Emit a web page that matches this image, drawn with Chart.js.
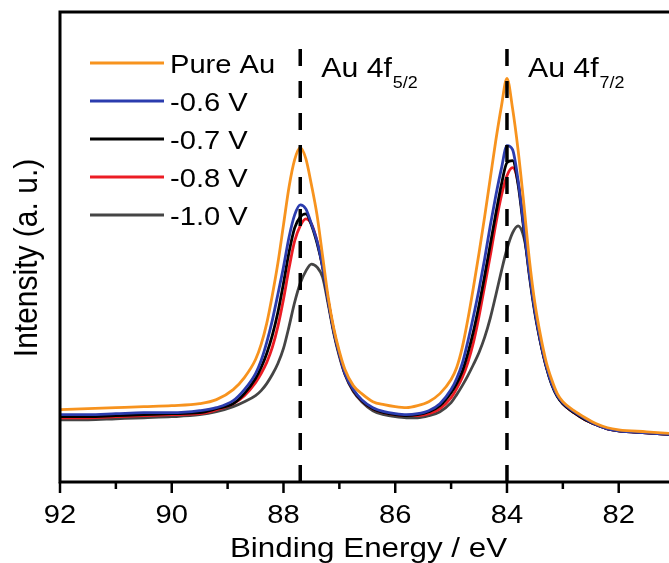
<!DOCTYPE html>
<html>
<head>
<meta charset="utf-8">
<script src="https://cdn.jsdelivr.net/npm/chart.js@4.4.1/dist/chart.umd.min.js"></script>
<style>
  html, body { margin: 0; padding: 0; background: #fff; }
  #wrap { width: 669px; height: 563px; position: relative; }
</style>
</head>
<body>
<div id="wrap"><canvas id="xps"></canvas></div>
<script>
// binding energy grid (eV)
const energy = [92.0, 91.5, 91.0, 90.5, 90.0, 89.5, 89.2, 88.9, 88.7, 88.5, 88.4, 88.3, 88.2, 88.1, 88.0,
  87.9, 87.8, 87.7, 87.6, 87.5, 87.4, 87.3, 87.2, 87.1, 87.0, 86.9, 86.75, 86.6, 86.4, 86.2, 86.0,
  85.8, 85.6, 85.4, 85.2, 85.0, 84.9, 84.8, 84.7, 84.6, 84.5, 84.4, 84.3, 84.2, 84.1, 84.0,
  83.9, 83.8, 83.7, 83.6, 83.5, 83.4, 83.3, 83.2, 83.1, 83.0, 82.8, 82.6, 82.4, 82.2, 82.0, 81.5, 81.0];

const pureAu = [72, 73, 74, 75, 76, 78, 82, 92, 104, 122, 137, 158, 186, 218, 256,
  294, 321, 333, 322, 296, 266, 225, 184, 153, 130, 112, 96, 88, 80, 77, 75,
  74, 76, 80, 88, 102, 114, 134, 162, 194, 228, 264, 302, 340, 374, 402,
  372, 330, 278, 222, 178, 146, 120, 102, 88, 80, 71, 64, 58, 54, 52, 50, 48];

const v06 = [67, 67, 68, 69, 69, 71, 74, 81, 92, 108, 121, 139, 161, 187, 214,
  244, 266, 276, 272, 257, 240, 214, 180, 150, 127, 108, 92, 82, 74, 70, 68,
  67, 68, 71, 78, 92, 103, 118, 140, 165, 192, 222, 255, 285, 312, 335,
  331, 300, 255, 208, 170, 140, 116, 98, 86, 79, 70, 63, 57, 53, 51, 49, 47];

const v07 = [65, 65, 66, 67, 68, 69, 73, 78, 88, 103, 114, 128, 146, 169, 198,
  229, 253, 264, 267, 256, 238, 214, 180, 150, 127, 108, 91, 81, 73, 69, 67,
  66, 67, 70, 76, 89, 98, 110, 128, 150, 176, 205, 236, 267, 296, 318,
  320, 296, 252, 206, 168, 139, 115, 97, 85, 78, 69, 62, 57, 53, 51, 49, 47];

const v08 = [64, 64, 65, 66, 67, 68, 72, 78, 86, 99, 108, 119, 134, 155, 182,
  213, 240, 255, 262, 257, 240, 215, 181, 151, 127, 108, 91, 81, 73, 69, 67,
  66, 66, 68, 73, 84, 93, 104, 119, 139, 165, 195, 225, 257, 285, 305,
  313, 298, 255, 208, 170, 140, 116, 98, 86, 78, 69, 62, 57, 53, 51, 49, 47];

const v10 = [62, 62, 63, 64, 65, 67, 70, 75, 80, 86, 91, 98, 107, 118, 133,
  155, 179, 198, 210, 217, 214, 204, 177, 148, 125, 107, 90, 80, 71, 67, 65,
  64, 64, 66, 70, 79, 87, 96, 106, 117, 129, 144, 163, 186, 210, 232,
  248, 255, 244, 213, 172, 140, 116, 98, 86, 78, 69, 62, 57, 53, 51, 49, 47];

const seriesNames = ["Pure Au", "-0.6 V", "-0.7 V", "-0.8 V", "-1.0 V"];
const seriesColors = ["#F7931E", "#2B3CAE", "#000000", "#EC1C24", "#454545"];
const seriesValues = [pureAu, v06, v07, v08, v10];

// peak positions marked with dashed lines, and their labels
const peakPos = [87.7, 84.0];
const peakMain = ["Au 4f", "Au 4f"];
const peakSub = ["5/2", "7/2"];

const xTickValues = [92, 91, 90, 89, 88, 87, 86, 85, 84, 83, 82];

const FONT = '"Liberation Sans", Arial, sans-serif';
const SX = 1.12; // the figure is a bit wider than tall

function wideText(ctx, str, x, y, size, align) {
  ctx.save();
  ctx.font = size + "px " + FONT;
  ctx.translate(x, y);
  ctx.scale(SX, 1);
  ctx.textAlign = align || "left";
  ctx.textBaseline = "alphabetic";
  ctx.fillText(str, 0, 0);
  ctx.restore();
}

const decor = {
  id: "decor",
  afterDatasetsDraw(chart) {
    const ctx = chart.ctx;
    const a = chart.chartArea;
    const xs = chart.scales.x;
    ctx.save();
    ctx.fillStyle = "#000";
    ctx.strokeStyle = "#000";

    // dashed peak markers
    ctx.lineWidth = 3.5;
    ctx.setLineDash([17, 15]);
    peakPos.forEach(p => {
      const px = xs.getPixelForValue(p);
      ctx.beginPath();
      ctx.moveTo(px, a.bottom);
      ctx.lineTo(px, 42);
      ctx.stroke();
    });
    ctx.setLineDash([]);

    // frame: top, left, bottom
    ctx.lineWidth = 3;
    ctx.beginPath();
    ctx.moveTo(a.right, a.top);
    ctx.lineTo(a.left, a.top);
    ctx.lineTo(a.left, a.bottom);
    ctx.lineTo(a.right, a.bottom);
    ctx.stroke();

    // x ticks and labels
    ctx.lineWidth = 2.5;
    xs.ticks.forEach(t => {
      const px = xs.getPixelForValue(t.value);
      const major = t.value % 2 === 0;
      ctx.beginPath();
      ctx.moveTo(px, a.bottom);
      ctx.lineTo(px, a.bottom + (major ? 11 : 7));
      ctx.stroke();
      if (major) wideText(ctx, String(t.value), px, a.bottom + 41, 26, "center");
    });

    // axis titles
    wideText(ctx, "Binding Energy / eV", (a.left + a.right) / 2 + 4, 557, 28, "center");
    ctx.save();
    ctx.translate(37, 258);
    ctx.rotate(-Math.PI / 2);
    ctx.scale(1, SX);
    ctx.font = "30px " + FONT;
    ctx.textAlign = "center";
    ctx.fillText("Intensity (a. u.)", 0, 0);
    ctx.restore();

    // peak labels
    peakPos.forEach((p, i) => {
      const px = xs.getPixelForValue(p) + 21;
      ctx.font = "27px " + FONT;
      const w = ctx.measureText(peakMain[i]).width * SX;
      wideText(ctx, peakMain[i], px, 77, 27, "left");
      wideText(ctx, peakSub[i], px + w + 1, 88, 16, "left");
    });

    // legend
    seriesNames.forEach((name, i) => {
      const y = 63 + i * 38;
      ctx.strokeStyle = seriesColors[i];
      ctx.lineWidth = 3;
      ctx.beginPath();
      ctx.moveTo(90, y);
      ctx.lineTo(164, y);
      ctx.stroke();
      wideText(ctx, name, 170, y + 10, 26, "left");
    });
    ctx.restore();
  }
};

const datasets = seriesValues.map((vals, i) => ({
  label: seriesNames[i],
  data: energy.map((e, k) => ({ x: e, y: vals[k] })),
  borderColor: seriesColors[i],
  borderWidth: 2.8,
  pointRadius: 0,
  fill: false,
  cubicInterpolationMode: "monotone"
}));

new Chart(document.getElementById("xps").getContext("2d"), {
  type: "line",
  data: { datasets },
  options: {
    responsive: true,
    maintainAspectRatio: false,
    animation: false,
    layout: { padding: { left: 60, top: 12, right: 0, bottom: 73 } },
    plugins: { legend: { display: false }, tooltip: { enabled: false } },
    scales: {
      x: {
        type: "linear",
        reverse: true,
        min: 81.1,
        max: 92,
        afterBuildTicks: s => { s.ticks = xTickValues.map(v => ({ value: v })); },
        ticks: { display: false },
        grid: { display: false },
        border: { display: false }
      },
      y: {
        display: false,
        min: 0,
        max: 468
      }
    }
  },
  plugins: [decor]
});
</script>
</body>
</html>
